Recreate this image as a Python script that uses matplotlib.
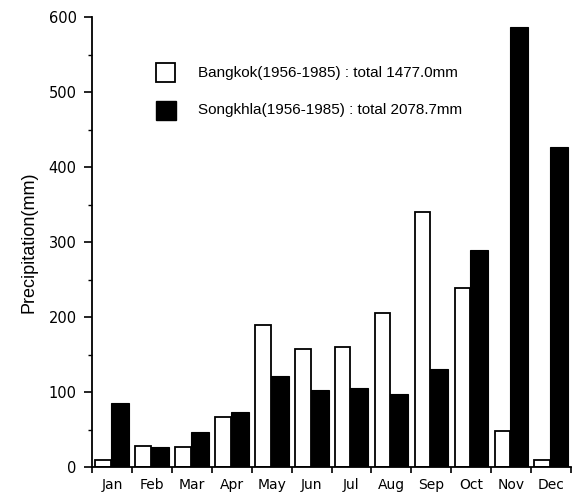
import numpy as np
import matplotlib
matplotlib.use("Agg")
import matplotlib.pyplot as plt

# ============================
# DATOS
# ============================
months = ["Jan", "Feb", "Mar", "Apr", "May", "Jun",
          "Jul", "Aug", "Sep", "Oct", "Nov", "Dec"]
bangkok = [9, 28, 27, 67, 190, 157, 160, 206, 340, 239, 48, 9]
songkhla = [85, 27, 47, 74, 122, 103, 105, 98, 131, 290, 587, 427]
label_bangkok = "Bangkok(1956-1985) : total 1477.0mm"
label_songkhla = "Songkhla(1956-1985) : total 2078.7mm"

narrow = ["Liberation Sans Narrow", "Liberation Sans", "DejaVu Sans"]

# ============================
# FIGURA
# ============================
fig = plt.figure(figsize=(5.76, 4.95), dpi=100)
ax = fig.add_axes([92 / 576, 1 - 467 / 495, 479 / 576, 450 / 495])

x = np.arange(len(months))
ax.bar(x + 0.085, bangkok, width=0.39, align="edge",
       facecolor="white", edgecolor="black", linewidth=1.3)
ax.bar(x + 0.475, songkhla, width=0.45, align="edge",
       facecolor="black", edgecolor="black", linewidth=0.8)

ax.set_xlim(0, 12)
ax.set_ylim(0, 600)

for s in ["top", "right"]:
    ax.spines[s].set_visible(False)
ax.spines["left"].set_linewidth(1.3)
ax.spines["bottom"].set_linewidth(1.3)

# eje x: marcas en los límites, etiquetas en el centro
ax.set_xticks(np.arange(0, 13))
ax.set_xticklabels([])
ax.set_xticks(x + 0.5, minor=True)
ax.set_xticklabels(months, minor=True, fontsize=10, family="DejaVu Sans")
ax.tick_params(axis="x", which="major", direction="out", length=4, width=1.2)
ax.tick_params(axis="x", which="minor", length=0, pad=8)

# eje y
ax.set_yticks(np.arange(0, 601, 100))
ax.set_yticks(np.arange(50, 600, 100), minor=True)
ax.tick_params(axis="y", which="major", direction="out", length=6, width=1.2,
               labelsize=10.5, labelfontfamily="DejaVu Sans", pad=5)
ax.tick_params(axis="y", which="minor", direction="out", length=3, width=1)

ax.set_ylabel("Precipitation(mm)", fontsize=13, family=narrow, labelpad=8)

# leyenda manual
fig.patches.append(plt.Rectangle((156 / 576, 1 - 82 / 495), 19 / 576, 19 / 495,
                                 transform=fig.transFigure, facecolor="white",
                                 edgecolor="black", linewidth=1.3))
fig.patches.append(plt.Rectangle((156 / 576, 1 - 120 / 495), 20 / 576, 19 / 495,
                                 transform=fig.transFigure, facecolor="black",
                                 edgecolor="black", linewidth=1))
fig.text(198 / 576, 1 - 73 / 495, label_bangkok, fontsize=11,
         family=narrow, va="center", ha="left")
fig.text(198 / 576, 1 - 110 / 495, label_songkhla, fontsize=11,
         family=narrow, va="center", ha="left")

plt.savefig("out.png", dpi=100)
